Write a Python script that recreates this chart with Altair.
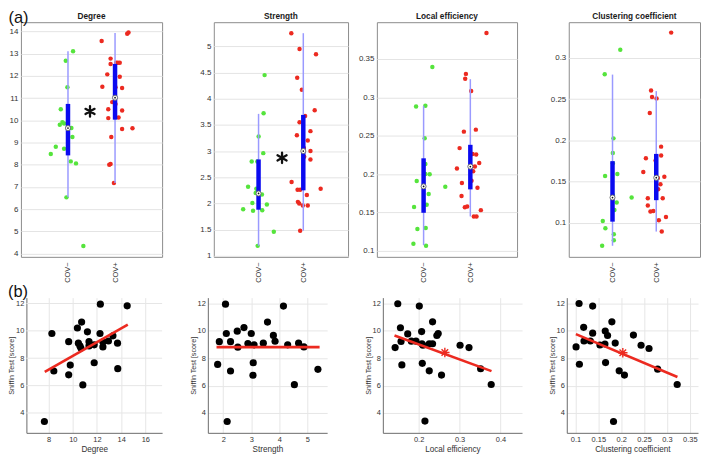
import altair as alt
import pandas as pd

FONT = "Liberation Sans"
GREEN = "#55e43c"
RED = "#ec2a20"
WHISKER = "#9a9aff"
BOXC = "#0a0af0"
TXT = "#333333"
GRID = "#e6e6e6"

group_labels = ["COV−", "COV+"]
top_titles = ["Degree", "Strength", "Local efficiency", "Clustering coefficient"]

# ---------------- (a) group comparison: jittered points ----------------
deg_neg_x = [1.108, 0.953, 0.988, 0.847, 0.826, 0.882, 0.917, 1.073, 1.094, 0.741, 0.635, 0.917, 1.059, 1.17, 0.967, 1.327]
deg_neg_y = [13.11, 12.68, 11.49, 10.50, 9.80, 9.92, 9.86, 9.65, 9.25, 8.81, 8.48, 8.72, 8.15, 8.06, 6.53, 4.34]
deg_pos_x = [1.715, 2.258, 2.286, 1.905, 1.905, 1.835, 2.025, 2.06, 2.10, 2.10, 1.73, 2.01, 2.15, 1.94, 2.01,
             1.856, 2.15, 1.856, 2.075, 2.15, 2.37, 1.92, 1.877, 1.905, 1.976]
deg_pos_y = [13.57, 13.90, 13.96, 12.78, 12.54, 12.07, 12.59, 12.59, 12.59, 11.96, 11.51, 11.49, 11.46, 10.82, 10.73,
             10.50, 10.44, 10.10, 10.13, 9.61, 9.64, 9.25, 8.00, 8.03, 7.18]

str_neg_x = [1.135, 1.113, 1.002, 1.105, 0.847, 0.973, 0.766, 0.95, 0.936, 1.076, 0.862, 1.186, 0.656, 0.877, 1.083, 1.341, 0.98]
str_neg_y = [4.45, 3.72, 3.28, 2.96, 2.80, 2.80, 2.32, 2.28, 2.20, 2.17, 2.01, 1.98, 1.89, 1.86, 1.87, 1.46, 1.19]
str_pos_x = [1.732, 1.916, 2.284, 1.864, 1.968, 2.255, 2.04, 1.916, 1.857, 2.16, 2.1, 2.012, 2.16, 2.02, 2.16,
             1.739, 1.872, 1.93, 2.388, 1.879, 1.908, 2.08, 1.99, 2.1, 1.93]
str_pos_y = [5.25, 4.95, 4.85, 4.40, 4.17, 3.78, 3.67, 3.55, 3.30, 3.38, 3.20, 3.06, 3.00, 2.89, 2.84,
             2.41, 2.26, 2.26, 2.28, 2.03, 2.00, 2.16, 1.96, 1.96, 1.48]

le_neg_x = [1.187, 0.839, 1.038, 1.023, 1.038, 1.038, 1.13, 0.853, 1.109, 1.066, 0.796, 1.045, 0.867, 0.782, 1.052, 1.464]
le_neg_y = [0.3397, 0.288, 0.289, 0.2467, 0.2132, 0.2, 0.1998, 0.191, 0.174, 0.160, 0.157, 0.1297, 0.1284, 0.109, 0.1065, 0.1835]
le_pos_x = [2.345, 1.905, 1.89, 2.018, 1.862, 2.118, 1.77, 2.047, 2.125, 1.713, 2.004, 2.097, 2.19, 2.061, 1.82,
            2.026, 2.153, 1.812, 1.883, 1.933, 2.075, 2.132, 2.225]
le_pos_y = [0.384, 0.3306, 0.3242, 0.3083, 0.2553, 0.2579, 0.2338, 0.226, 0.2256, 0.2071, 0.2097, 0.2097, 0.2145, 0.2037, 0.1882,
            0.1912, 0.1822, 0.1714, 0.1568, 0.1576, 0.1447, 0.1447, 0.1529]

cc_neg_x = [1.178, 0.822, 1.022, 1.007, 1.007, 1.111, 0.83, 1.007, 1.096, 1.044, 1.437, 0.778, 0.837, 1.03, 1.03, 0.763]
cc_neg_y = [0.3096, 0.28, 0.2024, 0.1848, 0.1724, 0.1592, 0.1568, 0.1336, 0.1248, 0.1156, 0.1308, 0.1024, 0.0936, 0.0864, 0.0792, 0.0724]
cc_pos_x = [2.341, 1.881, 1.904, 2.007, 1.852, 2.111, 2.111, 1.763, 1.985, 1.704, 2.185, 2.037, 2.096, 2.044, 1.807,
            2.148, 1.807, 1.867, 1.933, 2.222, 2.059, 2.126]
cc_pos_y = [0.3304, 0.2604, 0.2524, 0.2508, 0.2332, 0.1924, 0.1816, 0.1784, 0.1756, 0.1616, 0.1560, 0.1544, 0.1468, 0.1408, 0.13,
            0.13, 0.1212, 0.114, 0.1144, 0.1072, 0.1032, 0.0896]

# box stats: [whisker low, q1, median, q3, whisker high]
deg_neg_box = [6.53, 8.42, 9.65, 10.74, 13.11]
deg_pos_box = [7.18, 10.03, 11.02, 12.54, 13.93]
str_neg_box = [1.19, 1.88, 2.19, 2.84, 3.71]
str_pos_box = [1.48, 2.25, 3.00, 3.69, 5.25]
le_neg_box = [0.1073, 0.1495, 0.1839, 0.2205, 0.289]
le_pos_box = [0.1447, 0.180, 0.2097, 0.2381, 0.3237]
cc_neg_box = [0.0724, 0.1016, 0.1308, 0.1748, 0.2796]
cc_pos_box = [0.0896, 0.1276, 0.1548, 0.1836, 0.2596]

deg_star = [1.468, 10.4]
str_star = [1.525, 2.87]

deg_ticks = [4, 5, 6, 7, 8, 9, 10, 11, 12, 13, 14]
str_ticks = [1, 1.5, 2, 2.5, 3, 3.5, 4, 4.5, 5]
le_ticks = [0.1, 0.15, 0.2, 0.25, 0.3, 0.35]
cc_ticks = [0.1, 0.15, 0.2, 0.25, 0.3]

# ---------------- (b) correlations with Sniffin test ----------------
sniffin_label = "Sniffin Test [score]"
sn_ticks = [4, 6, 8, 10, 12]

b_deg_x = [7.65, 8.27, 8.43, 9.66, 9.79, 9.66, 10.38, 10.73, 10.46, 10.59, 10.67, 10.83, 11.21, 11.34, 11.34, 11.77, 11.77,
           12.25, 12.28, 12.49, 12.49, 12.95, 13.32, 13.70, 13.72, 14.5]
b_deg_y = [3.38, 9.81, 7.07, 6.79, 7.5, 9.21, 10.21, 10.64, 9.10, 8.90, 8.74, 6.05, 9.93, 9.21, 8.9, 8.98, 7.67,
           9.81, 11.95, 9.19, 8.83, 9.26, 9.64, 9.10, 7.24, 11.83]
b_str_x = [1.80, 1.86, 2.08, 2.11, 2.14, 2.26, 2.26, 2.5, 2.52, 2.74, 2.88, 3.0, 3.1, 3.07, 3.06, 3.43, 3.58, 3.79, 3.85,
           4.15, 4.30, 4.54, 4.69, 4.88, 5.38]
b_str_y = [7.55, 9.21, 11.95, 9.81, 3.38, 9.21, 7.07, 9.98, 8.81, 10.24, 9.07, 9.81, 8.98, 7.67, 6.76, 9.10, 10.64, 9.67, 9.24,
           11.81, 8.98, 6.07, 9.10, 8.83, 7.19]
b_le_x = [0.1425, 0.149, 0.1555, 0.157, 0.159, 0.1733, 0.1822, 0.1935, 0.2016, 0.2073, 0.2081, 0.2105, 0.2089, 0.2259, 0.2259,
          0.234, 0.234, 0.2154, 0.2445, 0.2478, 0.2559, 0.3012, 0.323, 0.3514, 0.3773]
b_le_y = [8.78, 11.98, 10.23, 9.23, 7.51, 9.78, 9.25, 9.25, 11.81, 9.95, 9.06, 8.95, 7.63, 7.08, 9.06,
          9.06, 10.66, 3.41, 9.66, 9.80, 6.77, 8.95, 8.78, 7.23, 6.08]
b_cc_x = [0.1014, 0.108, 0.1087, 0.118, 0.1188, 0.1326, 0.1377, 0.1377, 0.1536, 0.1652, 0.1645, 0.1659, 0.1703, 0.1797, 0.187,
          0.1957, 0.2072, 0.1833, 0.2268, 0.2435, 0.2609, 0.2797, 0.3225]
b_cc_y = [8.83, 12.0, 7.56, 10.26, 9.26, 9.26, 11.81, 9.83, 8.97, 9.99, 9.04, 7.68, 9.66, 10.66, 9.11,
          7.08, 6.77, 3.38, 9.69, 8.95, 8.71, 7.20, 6.08]

# fit lines [x0, y0, x1, y1]
b_deg_fit = [7.68, 7.0, 14.55, 10.45]
b_str_fit = [1.76, 8.81, 5.44, 8.81]
b_le_fit = [0.141, 9.66, 0.378, 7.06]
b_cc_fit = [0.101, 9.76, 0.323, 6.63]
b_le_star = [0.264, 8.42]
b_cc_star = [0.2036, 8.40]

b_deg_ticks = [8, 10, 12, 14, 16]
b_str_ticks = [2, 3, 4, 5]
b_le_ticks = [0.2, 0.3, 0.4]
b_cc_ticks = [0.1, 0.15, 0.2, 0.25, 0.3, 0.35]

# ---------------- layout ----------------
TOP_H = 236
BOT_H = 136
STAR6 = "M0,-1L0,1M-0.87,-0.5L0.87,0.5M-0.87,0.5L0.87,-0.5"
STAR8 = "M-1,0L1,0M0,-1L0,1M-0.7,-0.7L0.7,0.7M-0.7,0.7L0.7,-0.7"


def top_panel(title, nx, ny, px, py, nbox, pbox, ydom, yticks, width, extent, star=None):
    xs = alt.Scale(domain=[0, 3], nice=False, zero=False)
    ys = alt.Scale(domain=ydom, nice=False, zero=False)
    xax = alt.Axis(values=[1, 2],
                   labelExpr="datum.value == 1 ? '%s' : '%s'" % (group_labels[0], group_labels[1]),
                   labelAngle=-90, title=None, grid=False, ticks=False, domain=False,
                   labelPadding=5, labelFontSize=7.5)
    yax = alt.Axis(values=yticks, format="~g", title=None, grid=True, gridColor="#e4e4e4",
                   ticks=False, domain=False, labelPadding=3, labelFontSize=8,
                   minExtent=extent, maxExtent=extent)
    neg = pd.DataFrame({"x": nx, "y": ny})
    pos = pd.DataFrame({"x": px, "y": py})
    box = pd.DataFrame({"x": [1, 2], "lo": [nbox[0], pbox[0]], "q1": [nbox[1], pbox[1]],
                        "med": [nbox[2], pbox[2]], "q3": [nbox[3], pbox[3]], "hi": [nbox[4], pbox[4]]})

    def X():
        return alt.X("x:Q", scale=xs, axis=xax)

    def Y(f):
        return alt.Y(f + ":Q", scale=ys, axis=yax)

    layers = [
        alt.Chart(neg).mark_circle(size=20, color=GREEN, opacity=1).encode(x=X(), y=Y("y")),
        alt.Chart(pos).mark_circle(size=20, color=RED, opacity=1).encode(x=X(), y=Y("y")),
        alt.Chart(box).mark_rule(color=WHISKER, strokeWidth=1.5).encode(x=X(), y=Y("lo"), y2="hi:Q"),
        alt.Chart(box).mark_rule(color=BOXC, strokeWidth=4.5).encode(x=X(), y=Y("q1"), y2="q3:Q"),
        alt.Chart(box).mark_point(shape="circle", size=26, filled=True, fill="white", stroke="#666666",
                                  strokeWidth=0.9, opacity=1).encode(x=X(), y=Y("med")),
        alt.Chart(box).mark_circle(size=3, color="#111111", opacity=1).encode(x=X(), y=Y("med")),
    ]
    if star:
        sdf = pd.DataFrame({"x": [star[0]], "y": [star[1]]})
        layers.append(alt.Chart(sdf).mark_point(shape=STAR6, size=110, stroke="#111111", strokeWidth=2.3,
                                                filled=False, opacity=1, strokeCap="round").encode(
            x=X(), y=Y("y")))
    return alt.layer(*layers).properties(
        width=width, height=TOP_H,
        title=alt.TitleParams(title, fontSize=8.3, fontWeight="bold", offset=2, font=FONT,
                              color="#1a1a1a", frame="group"),
        view=alt.ViewBackground(stroke="#8c8c8c", strokeWidth=1),
    )


def bottom_panel(xlabel, bx, by, fit, xdom, xticks, width, extent, star=None, inset=0):
    # inset > 0: the data rectangle starts `inset` px inside the view (y axis moved in with it)
    if inset:
        xs = alt.Scale(domain=xdom, nice=False, zero=False, range=[inset, width + inset])
    else:
        xs = alt.Scale(domain=xdom, nice=False, zero=False)
    ys = alt.Scale(domain=[2.55, 12.43], nice=False, zero=False)
    xax = alt.Axis(values=xticks, format="~g", title=xlabel, grid=True, gridColor=GRID,
                   ticks=False, domain=True, domainColor="#6b6b6b", labelPadding=3, labelFontSize=7.5,
                   titleFontSize=8.2, titlePadding=2, titleFontWeight="normal")
    yax_kw = dict(values=sn_ticks, format="~g", title=sniffin_label, grid=not inset, gridColor=GRID,
                  ticks=False, domain=True, domainColor="#6b6b6b", labelPadding=2.5, labelFontSize=7.5,
                  titleFontSize=7.2, titleFontWeight="normal", titleX=-10.5, titleY=BOT_H / 2,
                  minExtent=extent, maxExtent=extent)
    if inset:
        yax_kw["offset"] = -inset
    yax = alt.Axis(**yax_kw)

    def X(f):
        return alt.X(f + ":Q", scale=xs, axis=xax)

    def Y(f):
        return alt.Y(f + ":Q", scale=ys, axis=yax)

    pts = pd.DataFrame({"x": bx, "y": by})
    fdf = pd.DataFrame({"x": [fit[0]], "y": [fit[1]], "x2": [fit[2]], "y2": [fit[3]]})
    layers = []
    if inset:
        gdf = pd.DataFrame({"t": sn_ticks})
        layers.append(alt.Chart(gdf).mark_rule(color=GRID, strokeWidth=1).encode(
            y=Y("t"),
            x=alt.XDatum(xdom[0], type="quantitative", scale=xs, axis=xax),
            x2=alt.X2Datum(xdom[1])))
    layers += [
        alt.Chart(pts).mark_circle(size=52, color="#000000", opacity=1).encode(x=X("x"), y=Y("y")),
        alt.Chart(fdf).mark_rule(color=RED, strokeWidth=2.6).encode(
            x=X("x"), y=Y("y"), x2="x2:Q", y2="y2:Q"),
    ]
    if star:
        sdf = pd.DataFrame({"x": [star[0]], "y": [star[1]]})
        layers.append(alt.Chart(sdf).mark_point(shape=STAR8, size=90, stroke=RED, strokeWidth=1.4,
                                                filled=False, opacity=1).encode(x=X("x"), y=Y("y")))
    return alt.layer(*layers).properties(
        width=width + inset, height=BOT_H,
        view=alt.ViewBackground(strokeOpacity=0),
    )


p1 = top_panel(top_titles[0], deg_neg_x, deg_neg_y, deg_pos_x, deg_pos_y, deg_neg_box, deg_pos_box,
               [3.85, 14.42], deg_ticks, 142, 12, deg_star)
p2 = top_panel(top_titles[1], str_neg_x, str_neg_y, str_pos_x, str_pos_y, str_neg_box, str_pos_box,
               [0.98, 5.46], str_ticks, 135, 46.5, str_star)
p3 = top_panel(top_titles[2], le_neg_x, le_neg_y, le_pos_x, le_pos_y, le_neg_box, le_pos_box,
               [0.092, 0.398], le_ticks, 141, 23.5)
p4 = top_panel(top_titles[3], cc_neg_x, cc_neg_y, cc_pos_x, cc_pos_y, cc_neg_box, cc_pos_box,
               [0.059, 0.343], cc_ticks, 132, 46.5)

q1 = bottom_panel(top_titles[0], b_deg_x, b_deg_y, b_deg_fit, [6.16, 17.39], b_deg_ticks, 136.5, 17.5,
                  inset=5.5)
q2 = bottom_panel(top_titles[1], b_str_x, b_str_y, b_str_fit, [1.45, 5.71], b_str_ticks, 120, 40.5)
q3 = bottom_panel(top_titles[2], b_le_x, b_le_y, b_le_fit, [0.1125, 0.4526], b_le_ticks, 140, 51.5, b_le_star)
q4 = bottom_panel(top_titles[3], b_cc_x, b_cc_y, b_cc_fit, [0.0811, 0.368], b_cc_ticks, 132, 40.5, b_cc_star)

top = alt.hconcat(p1, p2, p3, p4, spacing=4).properties(
    title=alt.TitleParams("(a)", anchor="start", fontSize=16.5, fontWeight="normal", offset=-15,
                          font=FONT, color="#111111"))
bottom = alt.hconcat(q1, q2, q3, q4, spacing=4).properties(
    title=alt.TitleParams("(b)", anchor="start", fontSize=16.5, fontWeight="normal", offset=-3,
                          font=FONT, color="#111111"))

chart = alt.vconcat(top, bottom, spacing=0).properties(padding=0).configure(
    font=FONT).configure_axis(labelColor=TXT, titleColor=TXT, labelFont=FONT, titleFont=FONT)

chart.save("out.html", embed_options={"renderer": "svg", "actions": False})
